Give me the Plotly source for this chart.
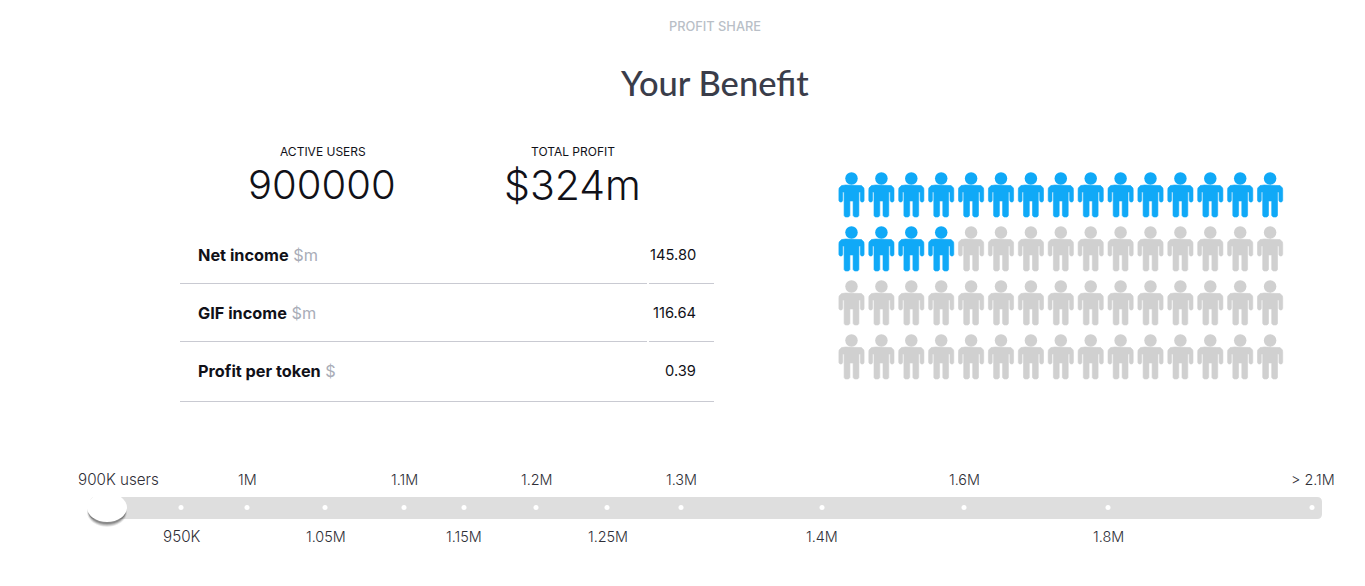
import plotly.graph_objects as go

# ---- data ----
eyebrow = "PROFIT SHARE"
title = "Your Benefit"
kpi_labels = ["ACTIVE USERS", "TOTAL PROFIT"]
kpi_values = ["900000", "$324m"]
row_names = ["Net income", "GIF income", "Profit per token"]
row_units = ["$m", "$m", "$"]
row_values = ["145.80", "116.64", "0.39"]
people_columns = 15
people_rows = 4
people_active = 19
upper_labels = ["900K users", "1M", "1.1M", "1.2M", "1.3M", "1.6M", "> 2.1M"]
upper_pos = [118.5, 247.5, 404, 536.5, 681, 964.5, 1313]
lower_labels = ["950K", "1.05M", "1.15M", "1.25M", "1.4M", "1.8M"]
lower_pos = [181.5, 325.5, 464, 607.5, 822, 1108.5]
dot_pos = [181, 247, 325, 404, 464, 536, 607, 681, 822, 964, 1108, 1312]

# ---- styling ----
SANS = "Inter, 'Open Sans', sans-serif"
BLUE = "#10a9f7"
GREY = "#d0d0d0"
INK = "#111118"

PERSON = [(-6, 0), (6, 0), (10, 0.6), (12.4, 3), (12.6, 5), (12.6, 15.5), (11.6, 17), (9.8, 17), (8.8, 15.5),
          (8.8, 7), (7.4, 7), (7.4, 30.5), (6.2, 32), (3.0, 32), (1.6, 30.5), (1.6, 16),
          (-1.6, 16), (-1.6, 30.5), (-3.0, 32), (-6.2, 32), (-7.4, 30.5), (-7.4, 7), (-8.8, 7),
          (-8.8, 15.5), (-9.8, 17), (-11.6, 17), (-12.6, 15.5), (-12.6, 5), (-12.4, 3), (-10, 0.6)]

fig = go.Figure()


def people(cells, colour):
    xs, ys, hx, hy = [], [], [], []
    for r, c in cells:
        cx = 851.5 + c * 29.9
        top = 185 + r * 54
        hx.append(cx)
        hy.append(top - 6.5)
        for dx, dy in PERSON + PERSON[:1]:
            xs.append(cx + dx)
            ys.append(top + dy)
        xs.append(None)
        ys.append(None)
    fig.add_trace(go.Scatter(x=xs, y=ys, mode="lines", fill="toself", fillcolor=colour,
                             line=dict(color=colour, width=0.6), hoverinfo="skip"))
    fig.add_trace(go.Scatter(x=hx, y=hy, mode="markers", hoverinfo="skip",
                             marker=dict(size=12.5, color=colour, line=dict(width=0))))


cells = [(r, c) for r in range(people_rows) for c in range(people_columns)]
people(cells[people_active:], GREY)
people(cells[:people_active], BLUE)

# slider dots
fig.add_trace(go.Scatter(x=dot_pos, y=[507.5] * len(dot_pos), mode="markers", hoverinfo="skip",
                         marker=dict(size=5, color="white", line=dict(width=0))))

annotations = []


def text(x, y, s, size, color=INK, anchor="center", family=SANS, weight=400):
    annotations.append(dict(x=x, y=y, xref="x", yref="y", text=s, showarrow=False, xanchor=anchor,
                            yanchor="middle", align=anchor, borderpad=0, borderwidth=0,
                            font=dict(family=family, size=size, color=color, weight=weight)))


text(714.5, 26, eyebrow, 12.8, "#b9bfc7", weight=500)
text(714, 82.5, title, 34.5, "#3a3d4a", family="Lato, sans-serif", weight=500)
text(322.5, 151, kpi_labels[0], 12)
text(572.5, 151, kpi_labels[1], 12)
text(322, 184.5, kpi_values[0], 40, weight=300)
text(572.5, 184.5, kpi_values[1], 41, weight=300)
for i, y in enumerate([254.5, 312.5, 371]):
    text(198, y, f"<b>{row_names[i]}</b> <span style='color:#a9adb8'>{row_units[i]}</span>", 16.3, anchor="left")
    text(696, y, row_values[i], 14.7, anchor="right")
for lab, x in zip(upper_labels, upper_pos):
    text(x, 479, lab, 15.2 if "K" in lab else 14.4, "#2f2f37", weight=300)
for lab, x in zip(lower_labels, lower_pos):
    text(x, 536, lab, 15.2 if "K" in lab else 14.4, "#2f2f37", weight=300)

rule = dict(type="line", xref="x", yref="y", line=dict(color="#c9cad2", width=1))


def shadow(x0, x1, y0, y1, alpha):
    return dict(type="circle", xref="x", yref="y", layer="above", line=dict(width=0),
                fillcolor=f"rgba(0,0,0,{alpha})", x0=x0, x1=x1, y0=y0, y1=y1)


shapes = [
    dict(rule, x0=180, x1=647, y0=283.5, y1=283.5),
    dict(rule, x0=649, x1=714, y0=283.5, y1=283.5),
    dict(rule, x0=180, x1=647, y0=341.5, y1=341.5),
    dict(rule, x0=649, x1=714, y0=341.5, y1=341.5),
    dict(rule, x0=180, x1=714, y0=401.5, y1=401.5),
    dict(type="path", xref="x", yref="y", layer="below", line=dict(width=0), fillcolor="#dedede",
         path="M 95 497 L 1317 497 Q 1322 497 1322 502 L 1322 514 Q 1322 519 1317 519 L 95 519 "
              "Q 90 519 90 514 L 90 502 Q 90 497 95 497 Z"),
    shadow(87, 127, 497, 527, 0.08),
    shadow(87.5, 126.5, 497, 526, 0.12),
    shadow(88, 126, 497, 525, 0.16),
    shadow(88, 126, 497, 524, 0.2),
    dict(type="circle", xref="x", yref="y", layer="above", line=dict(width=0), fillcolor="#ffffff",
         x0=87, x1=127, y0=493, y1=522),
]

# The page body has an 8 px margin, so the axes start at 8 px to keep reference pixel coordinates.
fig.update_layout(
    width=1349, height=570, margin=dict(l=0, r=0, t=0, b=0), autosize=False,
    paper_bgcolor="white", plot_bgcolor="white", showlegend=False,
    xaxis=dict(range=[8, 1357], visible=False, fixedrange=True),
    yaxis=dict(range=[578, 8], visible=False, fixedrange=True),
    annotations=annotations, shapes=shapes,
)
fig.write_html("out.html", config=dict(displayModeBar=False))
